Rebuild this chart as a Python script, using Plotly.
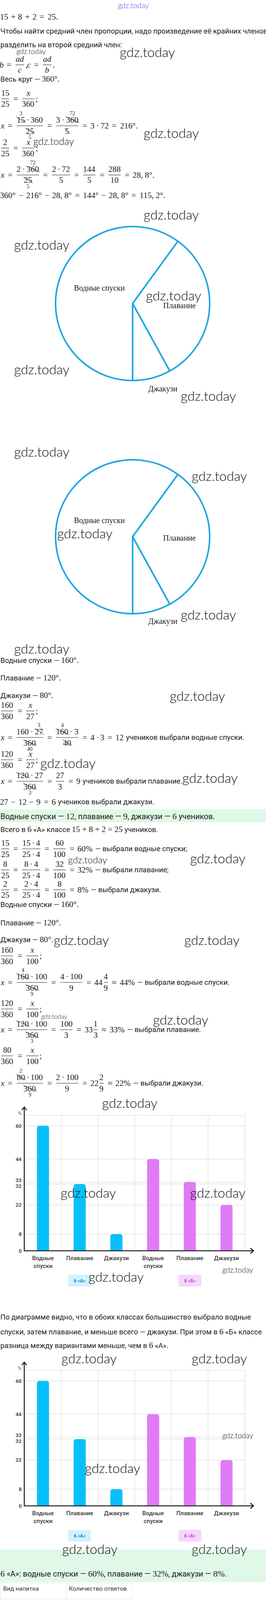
import plotly.graph_objects as go

W, H = 680, 5660
SERIF = "Liberation Serif"
SANS = "Roboto"
WMF = "Lato"
INK = "#1c1c1c"
EM = 21.0
BLUE_LINE = "#1ea7e1"
BAR_A = "#06c1f9"
BAR_B = "#e07bf8"
GRID = "#e9e9e9"
MINT = "#e0f8e7"

# ---------------- data ----------------
activities = ["Водные спуски", "Плавание", "Джакузи"]
class_labels = ["6 «А»", "6 «Б»"]
pie1_counts = [15, 8, 2]
pie2_counts = [15, 8, 2]
pct_6a = [60, 32, 8]
pct_6b = [44, 33, 22]
drinks = ["Сок", "Чай", "Газировка"]
drink_counts = [3, 5, 2]
table_header = ["Вид напитка", "Количество ответов"]

ann, shp = [], []


def px(x):
    return x / W


def py(y):
    return 1 - y / H


def put(x, y, s, size=18.5, family=SANS, color=INK, anchor="left", weight=None):
    f = dict(family=family, size=size, color=color)
    if weight is not None:
        f["weight"] = weight
    ann.append(dict(x=px(x), y=py(y), xref="paper", yref="paper", text=s,
                    showarrow=False, xanchor=anchor, yanchor="middle",
                    borderpad=0, font=f))


def m(s, size=21):
    return "<span style=\"font-family:'%s';font-size:%spx\">%s</span>" % (SERIF, size, s)


def seg(x0, y0, x1, y1, color=INK, width=1.0):
    shp.append(dict(type="line", xref="paper", yref="paper", x0=px(x0), y0=py(y0),
                    x1=px(x1), y1=py(y1), line=dict(color=color, width=width)))


def rect(x0, y0, x1, y1, fill):
    shp.append(dict(type="rect", xref="paper", yref="paper", x0=px(x0), y0=py(y0),
                    x1=px(x1), y1=py(y1), line=dict(width=0), fillcolor=fill, layer="below"))


def wm(x, y, size=34, color="#111111"):
    put(x, y, "gdz.today", size, WMF, color, "left", weight=300)


class Frac:
    def __init__(self, num, den):
        self.num, self.den = num, den


GW = {c: .5 for c in "0123456789"}
GW.update({",": .278, ".": .278, ";": .278, " ": .167, "°": .45, "%": .833,
           "x": .572, "a": .529, "d": .52, "b": .429, "c": .433})
OPS = {"=": (.778, .278), "≈": (.778, .278), "+": (.778, .222),
       "−": (.778, .222), "·": (.278, .222)}
PAD = .12


def parse(t):
    cancel = t.startswith("~")
    t = t.lstrip("~")
    up = down = None
    if "^" in t:
        t, up = t.split("^")
    elif "_" in t:
        t, down = t.split("_")
    return t, cancel, up, down


def tw(t):
    return sum(GW.get(c, .5) for c in t) * EM


def width(items):
    w = 0.0
    for it in items:
        if isinstance(it, Frac):
            w += max(width(it.num), width(it.den)) + 2 * PAD * EM
        elif it in OPS:
            g, s = OPS[it]
            w += (g + 2 * s) * EM
        else:
            w += tw(parse(it)[0])
    return w


def render(t):
    return "".join("<i>%s</i>" % c if c.isalpha() else c for c in t)


def math(x, y, items):
    for it in items:
        if isinstance(it, Frac):
            wn, wd = width(it.num), width(it.den)
            inner = max(wn, wd)
            x0 = x + PAD * EM
            seg(x0, y, x0 + inner, y, width=1.1)
            math(x0 + (inner - wn) / 2, y - 15, it.num)
            math(x0 + (inner - wd) / 2, y + 13.5, it.den)
            x = x0 + inner + PAD * EM
        elif it in OPS:
            g, s = OPS[it]
            put(x + (s + g / 2) * EM, y, it, EM, SERIF, anchor="center")
            x += (g + 2 * s) * EM
        else:
            t, cancel, up, down = parse(it)
            w = tw(t)
            put(x + w / 2, y, render(t), EM, SERIF, anchor="center")
            if cancel:
                seg(x - 1, y - 8, x + w + 2, y + 7, width=1)
            if up:
                put(x + w / 2, y - 16.5, up, 14, SERIF, anchor="center")
            if down:
                put(x + w / 2, y + 16, down, 14, SERIF, anchor="center")
            x += w
    return x


F = Frac

# ---------------- text block 1 ----------------
put(340, 13, "gdz.today", 19, WMF, "#4a4ae2", "center", weight=300)
math(0, 43, ["15", "+", "8", "+", "2", "=", "25."])
put(0, 80, "Чтобы найти средний член пропорции, надо произведение её крайних членов")
put(0, 115, "разделить на второй средний член:")
math(0, 166, ["b", "=", F(["ad"], ["c"]), ",", "c", "=", F(["ad"], ["b"]), "."])
put(0, 202, "Весь круг — " + m("360°."))
math(0, 253, [F(["15"], ["25"]), "=", F(["x"], ["360"]), ";"])
math(0, 322, ["x", "=", F(["~15^3", "·", "360"], ["~25_5"]), "=",
              F(["3", "·", "~360^72"], ["~5"]), "=", "3", "·", "72", "=", "216°."])
math(0, 379, [F(["2"], ["25"]), "=", F(["x"], ["360"]), ";"])
math(0, 448, ["x", "=", F(["2", "·", "~360^72"], ["~25_5"]), "=", F(["2", "·", "72"], ["5"]),
              "=", F(["144"], ["5"]), "=", F(["288"], ["10"]), "=", "28, 8°."])
math(0, 500, ["360°", "−", "216°", "−", "28, 8°", "=", "144°", "−", "28, 8°", "=", "115, 2°."])

# ---------------- pies ----------------
traces = []


def pie(values, labels, cx, cy, r=197):
    return go.Pie(values=values, labels=labels, sort=False, direction="clockwise",
                  rotation=180,
                  domain=dict(x=[px(cx - r), px(cx + r)], y=[py(cy + r), py(cy - r)]),
                  marker=dict(colors=["#ffffff"] * len(values),
                              line=dict(color=BLUE_LINE, width=4)),
                  textinfo="none", hoverinfo="skip", showlegend=False)


traces.append(pie(pie1_counts, activities, 339, 777))
for lab, (lx, ly, ls) in zip(activities, [(254, 738, 20), (459, 782, 20.5), (416, 995, 20)]):
    put(lx, ly, lab, ls, SERIF, "#222222", "center")
traces.append(pie(pie2_counts, activities, 339, 1374))
for lab, (lx, ly, ls) in zip(activities, [(254, 1332, 20), (459, 1377, 20.5), (416, 1590, 20)]):
    put(lx, ly, lab, ls, SERIF, "#222222", "center")

# ---------------- text block 2 ----------------
put(0, 1690, "Водные спуски — " + m("160°."))
put(0, 1735, "Плавание — " + m("120°."))
put(0, 1780, "Джакузи — " + m("80°."))
math(0, 1820, [F(["160"], ["360"]), "=", F(["x"], ["27"]), ";"])
xe = math(0, 1888, ["x", "=", F(["160", "·", "~27^3"], ["~360_40"]), "=",
                    F(["~160^4", "·", "3"], ["~40"]), "=", "4", "·", "3", "=", "12"])
put(xe + 5, 1888, "учеников выбрали водные спуски.")
math(0, 1945, [F(["120"], ["360"]), "=", F(["x"], ["27"]), ";"])
xe = math(0, 2000, ["x", "=", F(["~120", "·", "27"], ["~360_3"]), "=", F(["27"], ["3"]), "=", "9"])
put(xe + 5, 2000, "учеников выбрали плавание.")
xe = math(0, 2053, ["27", "−", "12", "−", "9", "=", "6"])
put(xe + 5, 2053, "учеников выбрали джакузи.")

rect(0, 2072, W, 2105, MINT)
put(0, 2089, "Водные спуски — " + m("12", 22) + ", плавание — " + m("9", 22) +
    ", джакузи — " + m("6", 22) + " учеников.", size=20)
put(0, 2123, "Всего в " + m("6") + " «А» классе " + m("15 + 8 + 2 = 25") + " учеников.")

tails = ["— выбрали водные спуски;", "— выбрали плавание;", "— выбрали джакузи."]
for y, cnt, p, tail in zip([2173, 2227, 2278], pie1_counts, pct_6a, tails):
    a = str(cnt)
    xe = math(0, y, [F([a], ["25"]), "=", F([a, "·", "4"], ["25", "·", "4"]), "=",
                     F([str(p)], ["100"]), "=", "%d%%" % p])
    put(xe + 5, y, tail)

put(0, 2315, "Водные спуски — " + m("160°."))
put(0, 2362, "Плавание — " + m("120°."))
put(0, 2405, "Джакузи — " + m("80°."))
math(0, 2447, [F(["160"], ["360"]), "=", F(["x"], ["100"]), ";"])
xe = math(0, 2515, ["x", "=", F(["~160^4", "·", "100"], ["~360_9"]), "=",
                    F(["4", "·", "100"], ["9"]), "=", "44", F(["4"], ["9"]), "≈", "44%"])
put(xe + 5, 2515, "— выбрали водные спуски.")
math(0, 2583, [F(["120"], ["360"]), "=", F(["x"], ["100"]), ";"])
xe = math(0, 2636, ["x", "=", F(["~120", "·", "100"], ["~360_3"]), "=",
                    F(["100"], ["3"]), "=", "33", F(["1"], ["3"]), "≈", "33%"])
put(xe + 5, 2636, "— выбрали плавание.")
math(0, 2703, [F(["80"], ["360"]), "=", F(["x"], ["100"]), ";"])
xe = math(0, 2773, ["x", "=", F(["~80^2", "·", "100"], ["~360_9"]), "=",
                    F(["2", "·", "100"], ["9"]), "=", "22", F(["2"], ["9"]), "≈", "22%"])
put(xe + 5, 2773, "— выбрали джакузи.")

# ---------------- bar charts ----------------
cats_all = activities + activities
idx = list(range(len(cats_all)))
idx_a = idx[:len(pct_6a)]
idx_b = idx[len(pct_6a):]
tick_text = [c.replace(" ", "<br>") for c in cats_all]
y_ticks = sorted(set([0] + pct_6a + pct_6b))
PPU = 320 / 60.0
Y_MAX = 65
axes = {}
AXC = "#1e1e1e"


def chart(k, y0):
    xn = "x" if k == 1 else "x%d" % k
    yn = "y" if k == 1 else "y%d" % k
    for xs, ys, col in [(idx_a, pct_6a, BAR_A), (idx_b, pct_6b, BAR_B)]:
        traces.append(go.Bar(x=xs, y=ys, width=0.33, xaxis=xn, yaxis=yn,
                             marker=dict(color=col, cornerradius=6, line=dict(width=0)),
                             hoverinfo="skip", showlegend=False))
    axes["xaxis" if k == 1 else "xaxis%d" % k] = dict(
        domain=[px(63), px(626)], range=[-0.5, len(idx) - 0.5], anchor=yn,
        tickmode="array", tickvals=idx, ticktext=tick_text, ticks="",
        showgrid=False, zeroline=False, showline=False, ticklabelstandoff=8,
        tickfont=dict(family=SANS, size=15, color="#3b3b3b", weight=500),
        minor=dict(tickmode="array", tickvals=[i - 0.5 for i in idx] + [idx[-1] + 0.5],
                   showgrid=True, gridcolor=GRID, gridwidth=2, ticks=""),
        fixedrange=True)
    axes["yaxis" if k == 1 else "yaxis%d" % k] = dict(
        domain=[py(y0), py(y0 - Y_MAX * PPU)], range=[0, Y_MAX], anchor=xn,
        tickmode="array", tickvals=y_ticks, showticklabels=False, ticks="",
        showgrid=True, gridcolor=GRID, gridwidth=2, zeroline=False, showline=False,
        fixedrange=True)
    shp.append(dict(type="rect", xref=xn + " domain", yref=yn + " domain", x0=0, x1=1,
                    y0=0, y1=1, line=dict(color=GRID, width=2), layer="below"))
    for i, v in enumerate(y_ticks):
        sh = 0
        if i + 1 < len(y_ticks) and y_ticks[i + 1] - v < 3:
            sh = -5
        if i > 0 and v - y_ticks[i - 1] < 3:
            sh = 5
        ann.append(dict(xref="paper", yref=yn, x=px(56), y=v, text=str(v), showarrow=False,
                        xanchor="right", yanchor="middle", yshift=sh, borderpad=0,
                        font=dict(family=SANS, size=13, color="#2a2a2a", weight=500)))
    tip = y0 - 369
    seg(62, y0 + 1, 62, tip, AXC, 2.5)
    seg(61, y0, 649, y0, AXC, 2.5)
    shp.append(dict(type="path", xref="paper", yref="paper",
                    path="M %f,%f L %f,%f L %f,%f" % (px(56), py(tip + 9), px(62), py(tip + 1),
                                                      px(68), py(tip + 9)),
                    line=dict(color=AXC, width=2.5)))
    shp.append(dict(type="path", xref="paper", yref="paper",
                    path="M %f,%f L %f,%f L %f,%f" % (px(640), py(y0 - 7), px(648), py(y0),
                                                      px(640), py(y0 + 7)),
                    line=dict(color=AXC, width=2.5)))
    put(50, y0 - 352, "%", 12, SANS, "#555555", "center")
    for lab, grp, fill, fc in [(class_labels[0], idx_a, "#cff3fe", "#1787c4"),
                               (class_labels[1], idx_b, "#f5d6fc", "#b84fd8")]:
        ann.append(dict(xref=xn, yref="paper", x=sum(grp) / len(grp), y=py(y0 + 76),
                        text="<b>%s</b>" % lab, showarrow=False, xanchor="center",
                        yanchor="middle", width=57, height=29, bgcolor=fill, borderpad=0,
                        align="center", valign="middle",
                        font=dict(family=SANS, size=12, color=fc)))


chart(1, 3202)

put(0, 3372, "По диаграмме видно, что в обоих классах большинство выбрало водные")
put(0, 3409, "спуски, затем плавание, и меньше всего — джакузи. При этом в " + m("6") + " «Б» классе")
put(0, 3444, "разница между вариантами меньше, чем в " + m("6") + " «А».")

chart(2, 3855)

rect(0, 3967, W, 4050, MINT)
put(0, 4028, m("6", 22) + " «А»: водные спуски — " + m("60%", 22) + ", плавание — " +
    m("32%", 22) + ", джакузи — " + m("8%", 22) + ".", size=20)

# ---------------- table ----------------
traces.append(go.Table(
    domain=dict(x=[0, px(338)], y=[py(4218), py(4052)]),
    columnwidth=[168, 170],
    header=dict(values=table_header, align="left", fill_color="white",
                line_color="#e2e2e2", height=41,
                font=dict(family=SANS, size=15.5, color="#333333")),
    cells=dict(values=[drinks, [str(c) for c in drink_counts]], align="left",
               fill_color="white", line_color="#e2e2e2", height=41,
               font=dict(family=[SANS, SERIF], size=[15.5, 19], color="#333333"))))

put(0, 4234, "Всего было опрошено " + m("10") + " человек.")
math(0, 4273, [F(["3"], ["10"]), "=", F(["x"], ["360"]), ";"])
math(0, 4343, ["x", "=", F(["3", "·", "~360^36"], ["~10"]), "=", "3", "·", "36", "=", "108°."])
math(0, 4383, [F(["5"], ["10"]), "=", F(["x"], ["360"]), ";"])
math(0, 4437, ["x", "=", F(["~5", "·", "360"], ["~10_2"]), "=", F(["360"], ["2"]), "=", "180°."])
math(0, 4495, [F(["2"], ["10"]), "=", F(["x"], ["360"]), ";"])
math(0, 4563, ["x", "=", F(["2", "·", "~360^36"], ["~10"]), "=", "2", "·", "36", "=", "72°."])

traces.append(pie(drink_counts, drinks, 339, 4843, 198))
for lab, (lx, ly, ls) in zip(drinks, [(249, 4906, 25), (367, 4760, 25), (418, 4941, 20)]):
    put(lx, ly, lab, ls, SERIF, "#222222", "center")
traces.append(pie(drink_counts, drinks, 339, 5398, 198))
for lab, (lx, ly, ls) in zip(drinks, [(249, 5461, 25), (367, 5317, 25), (418, 5496, 20)]):
    put(lx, ly, lab, ls, SERIF, "#222222", "center")

# ---------------- watermarks ----------------
for (wx, wy) in [(305, 133), (366, 340), (366, 548), (35, 625), (372, 755), (35, 944),
                 (461, 1013), (35, 1156), (489, 1217), (145, 1364), (461, 1572), (35, 1660),
                 (433, 1780), (102, 1952), (465, 1990), (485, 2196), (136, 2405), (470, 2405),
                 (390, 2610), (260, 2822), (154, 3052), (485, 3052), (225, 3267), (156, 3476),
                 (489, 3476), (216, 3757), (158, 3964), (489, 3964), (489, 4169), (158, 4260),
                 (489, 4379), (158, 4476), (489, 4586), (39, 4683), (368, 4805), (35, 5001),
                 (489, 5013), (78, 5206), (489, 5220), (158, 5416), (489, 5551)]:
    wm(wx, wy)
for (wx, wy, ws) in [(41, 131, 18), (84, 361, 25), (173, 2201, 24), (104, 2601, 16),
                     (567, 3250, 19), (567, 3675, 19)]:
    wm(wx, wy, ws)

fig = go.Figure(data=traces)
fig.update_layout(width=W, height=H, autosize=False, margin=dict(l=0, r=0, t=0, b=0, pad=0),
                  paper_bgcolor="white", plot_bgcolor="white", showlegend=False,
                  barmode="overlay", hovermode=False, annotations=ann, shapes=shp, **axes)
fig.write_html("out.html", config={"displayModeBar": False, "staticPlot": True},
               post_script="document.body.style.margin='0';")
